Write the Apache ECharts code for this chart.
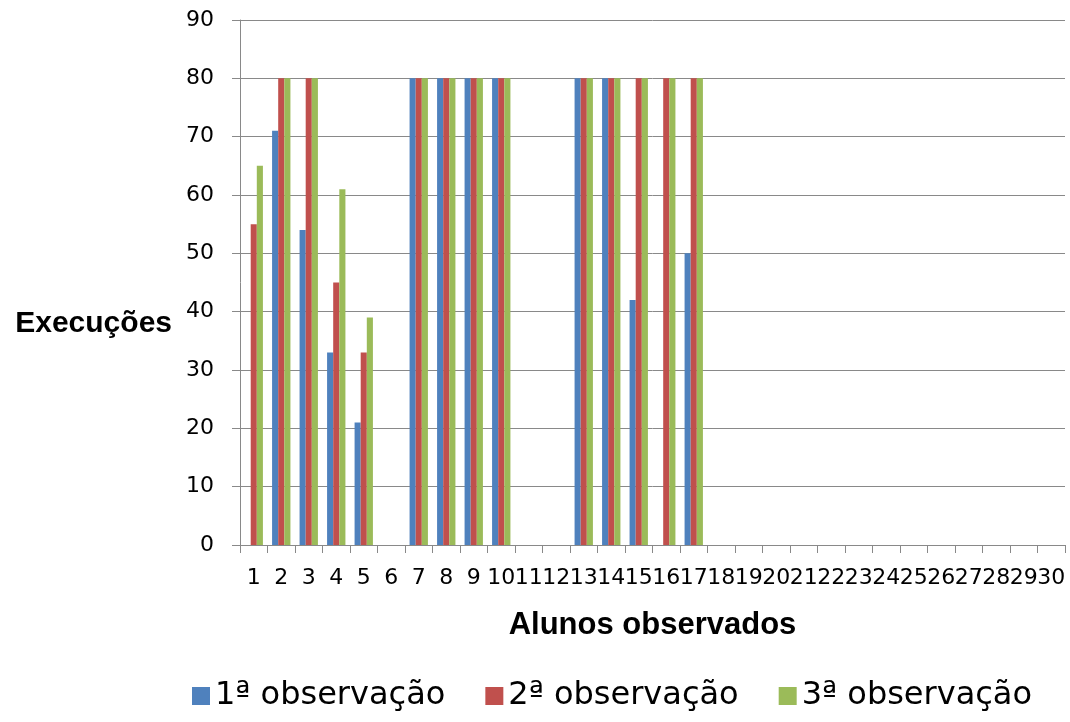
<!DOCTYPE html>
<html>
<head>
<meta charset="utf-8">
<script src="https://cdn.jsdelivr.net/npm/echarts@6/dist/echarts.min.js"></script>
<style>
html,body{margin:0;padding:0;background:#fff;}
#chart{width:1070px;height:722px;}
</style>
</head>
<body>
<div id="chart"></div>
<script>
const categories = ['1','2','3','4','5','6','7','8','9','10','11','12','13','14','15','16','17','18','19','20','21','22','23','24','25','26','27','28','29','30'];
const obs1 = [null,71,54,33,21,null,80,80,80,80,null,null,80,80,42,null,50,null,null,null,null,null,null,null,null,null,null,null,null,null];
const obs2 = [55,80,80,45,33,null,80,80,80,80,null,null,80,80,80,80,80,null,null,null,null,null,null,null,null,null,null,null,null,null];
const obs3 = [65,80,80,61,39,null,80,80,80,80,null,null,80,80,80,80,80,null,null,null,null,null,null,null,null,null,null,null,null,null];
const seriesNames = ['1ª observação','2ª observação','3ª observação'];
const yTitle = 'Execuções';
const xTitle = 'Alunos observados';
const colors = ['#4F81BD','#C0504D','#9BBB59'];

const chart = echarts.init(document.getElementById('chart'), null, {renderer:'canvas'});
const gray = '#898989';
const baseFont = '"DejaVu Sans", sans-serif';
const titleFont = '"Liberation Sans", Arial, sans-serif';

chart.setOption({
  animation: false,
  color: colors,
  grid: {left: 240, right: 5, top: 20, bottom: 177, containLabel: false},
  legend: {
    left: 187, top: 675,
    itemWidth: 18, itemHeight: 18, itemGap: 40,
    icon: 'rect',
    textStyle: {fontFamily: baseFont, fontSize: 32, color: '#000'},
    data: seriesNames
  },
  graphic: [{
    type: 'text',
    right: 1070 - 172,
    top: 309,
    style: {text: yTitle, font: 'bold 30px "Liberation Sans", Arial, sans-serif', fill: '#000'}
  }],
  xAxis: {
    type: 'category',
    data: categories,
    name: xTitle,
    nameLocation: 'middle',
    nameGap: 65,
    nameTextStyle: {fontFamily: titleFont, fontSize: 31, fontWeight: 'bold', color: '#000'},
    axisLine: {lineStyle: {color: gray, width: 1}},
    axisTick: {show: true, length: 8, lineStyle: {color: gray}},
    axisLabel: {interval: 0, fontFamily: baseFont, fontSize: 22, color: '#000', margin: 22},
    splitLine: {show: false}
  },
  yAxis: {
    type: 'value',
    min: 0, max: 90, interval: 10,
    axisLine: {show: true, lineStyle: {color: gray, width: 1}},
    axisTick: {show: true, length: 8, lineStyle: {color: gray}},
    axisLabel: {fontFamily: baseFont, fontSize: 22, color: '#000', margin: 26},
    splitLine: {show: true, lineStyle: {color: gray, width: 1}}
  },
  series: [obs1, obs2, obs3].map((d, i) => ({
    name: seriesNames[i],
    type: 'bar',
    data: d,
    barGap: '0%',
    barCategoryGap: '33.3%',
    itemStyle: {color: colors[i]}
  }))
});
</script>
</body>
</html>
